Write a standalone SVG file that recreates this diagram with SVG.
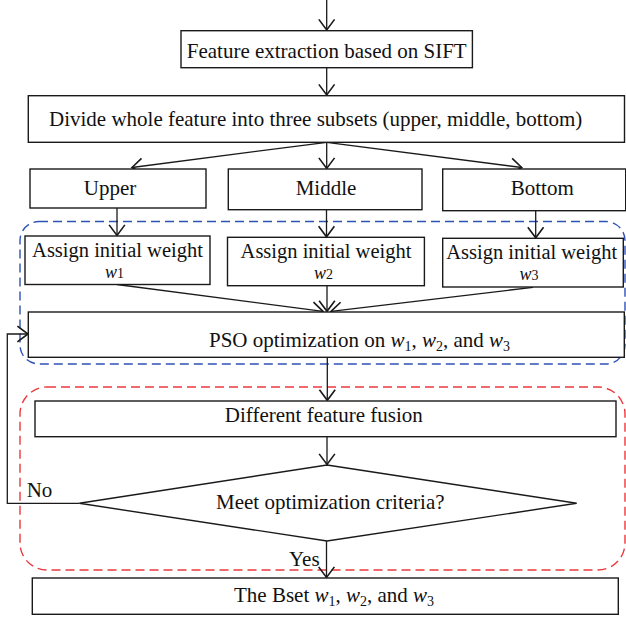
<svg xmlns="http://www.w3.org/2000/svg" width="626" height="617" viewBox="0 0 626 617">
<defs>
<marker id="ah" markerUnits="userSpaceOnUse" markerWidth="20" markerHeight="20" viewBox="-10 -8 12 16" refX="0" refY="0" orient="auto">
<path d="M-8.5,-6.3 L0,0 L-8.5,6.3" fill="none" stroke="#1a1a1a" stroke-width="1.3"/>
</marker>
</defs>
<style>
.box{fill:#fff;stroke:#1a1a1a;stroke-width:1.4}
.ln{fill:none;stroke:#1a1a1a;stroke-width:1.3;marker-end:url(#ah)}
text{font-family:"Liberation Serif","Times New Roman",serif;font-size:21px;fill:#111}
.s{font-size:20.5px}
.wl{font-size:18px}
.m{text-anchor:middle}
.i{font-style:italic}
.sub{font-size:14px}
.blue{fill:none;stroke:#2f52b5;stroke-width:1.4;stroke-dasharray:9 5}
.red{fill:none;stroke:#ea3a3d;stroke-width:1.4;stroke-dasharray:9 5}
</style>
<g id="groups">
<rect class="blue" x="20" y="221.5" width="605" height="142.5" rx="19" ry="19"/>
<rect class="red" x="20" y="387" width="605" height="183" rx="27" ry="27"/>
</g>
<g id="connectors">
<line class="ln" x1="326.7" y1="0" x2="326.7" y2="30"/>
<line class="ln" x1="326.7" y1="68" x2="326.7" y2="95"/>
<line class="ln" x1="326.7" y1="142.3" x2="132" y2="167.5"/>
<line class="ln" x1="326.7" y1="142.3" x2="326.7" y2="168.5"/>
<line class="ln" x1="326.7" y1="142.3" x2="521.7" y2="167.5"/>
<line class="ln" x1="117" y1="208" x2="117" y2="235.5"/>
<line class="ln" x1="326.5" y1="210" x2="326.5" y2="236.8"/>
<line class="ln" x1="535.7" y1="211" x2="535.7" y2="237.8"/>
<line class="ln" x1="117" y1="284.5" x2="323" y2="311.3"/>
<line class="ln" x1="327" y1="286" x2="327" y2="311.3"/>
<line class="ln" x1="533" y1="287.3" x2="331" y2="311.3"/>
<line class="ln" x1="327.3" y1="357.3" x2="327.3" y2="400.3"/>
<line class="ln" x1="327" y1="436.7" x2="327" y2="464.5"/>
<line class="ln" x1="326.5" y1="541" x2="326.5" y2="577.5"/>
<polyline class="ln" points="79.3,503.3 7.3,503.3 7.3,334 28,334"/>
</g>
<g id="n-sift">
<rect class="box" x="181" y="30.7" width="291.4" height="37"/>
<text class="m" x="326.7" y="58.3">Feature extraction based on SIFT</text>
</g>
<g id="n-divide">
<rect class="box" x="28.3" y="95.7" width="596.2" height="46.6"/>
<text x="49" y="125.7">Divide whole feature into three subsets (upper, middle, bottom)</text>
</g>
<g id="n-upper">
<rect class="box" x="30" y="169" width="176" height="39"/>
<text class="m" x="110" y="195">Upper</text>
</g>
<g id="n-middle">
<rect class="box" x="228.3" y="169" width="193.7" height="40.7"/>
<text class="m" x="326" y="195">Middle</text>
</g>
<g id="n-bottom">
<rect class="box" x="442.7" y="169" width="183" height="41.7"/>
<text class="m" x="542.3" y="195">Bottom</text>
</g>
<g id="n-w1">
<rect class="box" x="25" y="236" width="185" height="48.5"/>
<text class="m s" x="117.5" y="257">Assign initial weight</text>
<text class="m wl" x="114.5" y="278"><tspan class="i">w</tspan><tspan class="sub">1</tspan></text>
</g>
<g id="n-w2">
<rect class="box" x="227.5" y="237.3" width="196.9" height="48.4"/>
<text class="m s" x="326" y="258">Assign initial weight</text>
<text class="m wl" x="323.5" y="279"><tspan class="i">w</tspan><tspan class="sub">2</tspan></text>
</g>
<g id="n-w3">
<rect class="box" x="442.7" y="238.3" width="180.6" height="48.7"/>
<text class="m s" x="531.7" y="258.5">Assign initial weight</text>
<text class="m wl" x="529" y="279.5"><tspan class="i">w</tspan><tspan class="sub">3</tspan></text>
</g>
<g id="n-pso">
<rect class="box" x="28.3" y="312" width="596" height="45.3"/>
<text x="209" y="346.7">PSO optimization on <tspan class="i">w</tspan><tspan class="sub" dy="4">1</tspan><tspan dy="-4">, </tspan><tspan class="i">w</tspan><tspan class="sub" dy="4">2</tspan><tspan dy="-4">, and </tspan><tspan class="i">w</tspan><tspan class="sub" dy="4">3</tspan></text>
</g>
<g id="n-fusion">
<rect class="box" x="35" y="401" width="581" height="35.7"/>
<text class="m" x="323.8" y="421.7">Different feature fusion</text>
</g>
<g id="n-criteria">
<polygon class="box" points="327,465 576.7,503.3 327,541 79.3,503.3"/>
<text x="216" y="509">Meet optimization criteria?</text>
</g>
<g id="labels">
<text x="26.7" y="497">No</text>
<text x="289" y="566">Yes</text>
</g>
<g id="n-bset">
<rect class="box" x="32.3" y="578" width="586" height="36.3"/>
<text x="234" y="601.7">The Bset <tspan class="i">w</tspan><tspan class="sub" dy="4">1</tspan><tspan dy="-4">, </tspan><tspan class="i">w</tspan><tspan class="sub" dy="4">2</tspan><tspan dy="-4">, and </tspan><tspan class="i">w</tspan><tspan class="sub" dy="4">3</tspan></text>
</g>
</svg>
